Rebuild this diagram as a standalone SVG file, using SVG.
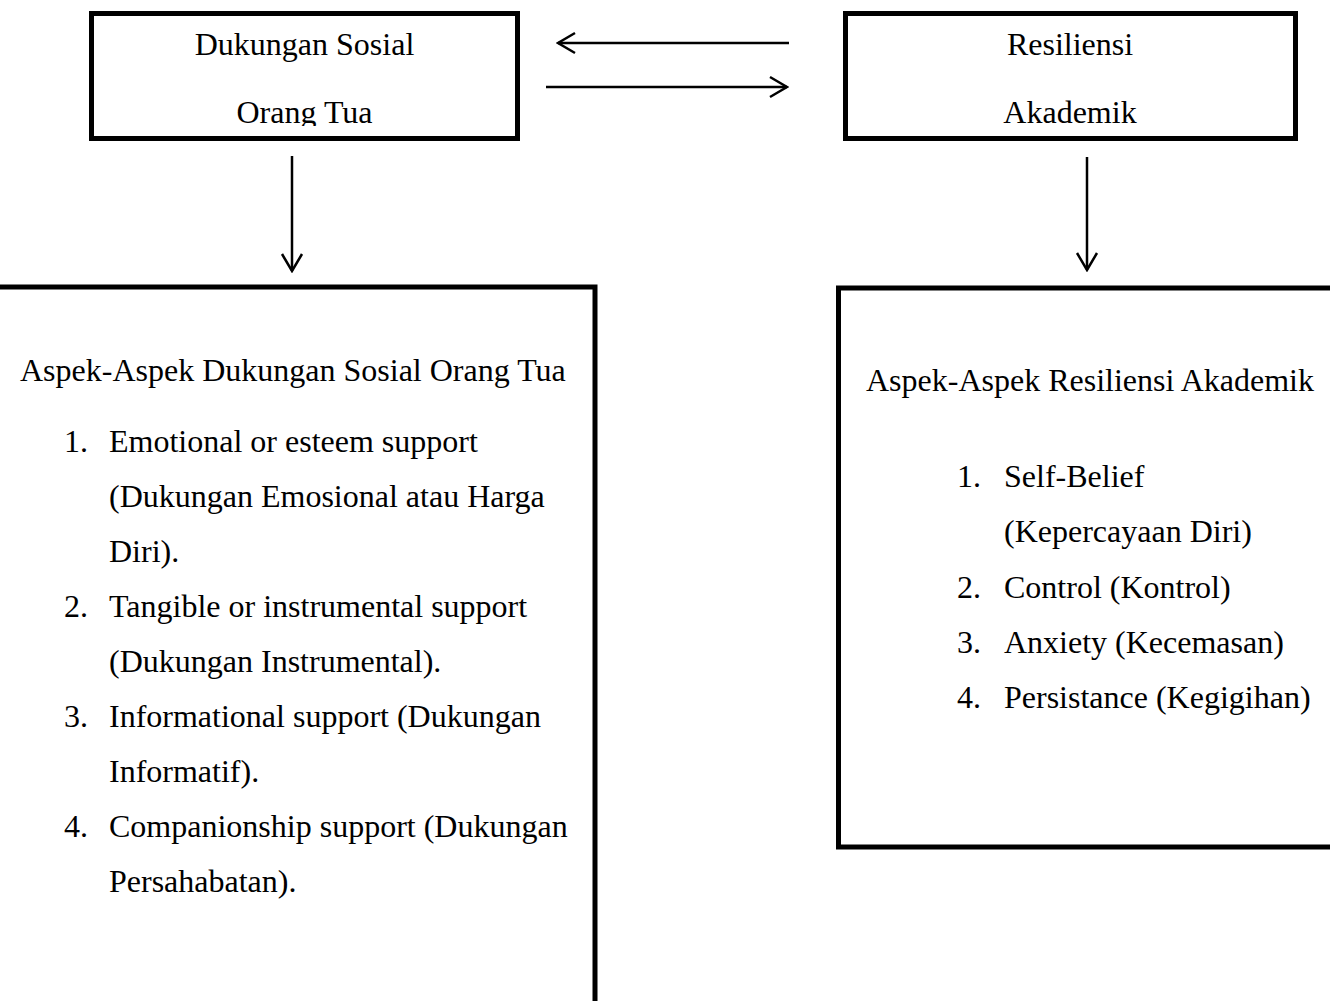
<svg xmlns="http://www.w3.org/2000/svg" width="1330" height="1001" viewBox="0 0 1330 1001">
  <style>
    .box { fill: #ffffff; stroke: #000000; stroke-width: 5; }
    .t { font-family: "Liberation Serif", "Times New Roman", serif; font-size: 32px; fill: #000000; }
    .c { text-anchor: middle; }
    .conn { stroke: #000000; stroke-width: 2.5; fill: none; marker-end: url(#arrow); }
  </style>
  <defs>
    <marker id="arrow" viewBox="-20 -12 22 24" markerWidth="22" markerHeight="24" refX="0" refY="0" orient="auto" markerUnits="userSpaceOnUse">
      <path d="M-17,-10 L0,0 L-17,10" fill="none" stroke="#000000" stroke-width="2.5" stroke-linejoin="miter"/>
    </marker>
    <clipPath id="clipTL">
      <rect x="91" y="13" width="427" height="113"/>
    </clipPath>
  </defs>
  <rect width="1330" height="1001" fill="#ffffff"/>

  <g id="node-dukungan">
    <rect class="box" x="91.5" y="13.5" width="426" height="125"/>
    <g clip-path="url(#clipTL)">
      <text class="t c" x="304.5" y="55">Dukungan Sosial</text>
      <text class="t c" x="304.5" y="123">Orang Tua</text>
    </g>
  </g>

  <g id="node-resiliensi">
    <rect class="box" x="845.5" y="13.5" width="450" height="125"/>
    <text class="t c" x="1070" y="55">Resiliensi</text>
    <text class="t c" x="1070" y="123">Akademik</text>
  </g>

  <g id="node-aspek-dukungan">
    <rect class="box" x="-10" y="287" width="605" height="730"/>
    <text class="t" x="20" y="381">Aspek-Aspek Dukungan Sosial Orang Tua</text>
    <text class="t" x="64" y="452">1.</text>
    <text class="t" x="109" y="452">Emotional or esteem support</text>
    <text class="t" x="109" y="507">(Dukungan Emosional atau Harga</text>
    <text class="t" x="109" y="562">Diri).</text>
    <text class="t" x="64" y="617">2.</text>
    <text class="t" x="109" y="617">Tangible or instrumental support</text>
    <text class="t" x="109" y="672">(Dukungan Instrumental).</text>
    <text class="t" x="64" y="727">3.</text>
    <text class="t" x="109" y="727">Informational support (Dukungan</text>
    <text class="t" x="109" y="782">Informatif).</text>
    <text class="t" x="64" y="837">4.</text>
    <text class="t" x="109" y="837">Companionship support (Dukungan</text>
    <text class="t" x="109" y="892">Persahabatan).</text>
  </g>

  <g id="node-aspek-resiliensi">
    <rect class="box" x="838.5" y="288" width="520" height="559"/>
    <text class="t" x="866" y="391">Aspek-Aspek Resiliensi Akademik</text>
    <text class="t" x="957" y="487">1.</text>
    <text class="t" x="1004" y="487">Self-Belief</text>
    <text class="t" x="1004" y="542">(Kepercayaan Diri)</text>
    <text class="t" x="957" y="598">2.</text>
    <text class="t" x="1004" y="598">Control (Kontrol)</text>
    <text class="t" x="957" y="653">3.</text>
    <text class="t" x="1004" y="653">Anxiety (Kecemasan)</text>
    <text class="t" x="957" y="708">4.</text>
    <text class="t" x="1004" y="708">Persistance (Kegigihan)</text>
  </g>

  <g id="connectors">
    <line class="conn" x1="789" y1="43" x2="558" y2="43"/>
    <line class="conn" x1="546" y1="87" x2="787" y2="87"/>
    <line class="conn" x1="292" y1="156" x2="292" y2="271"/>
    <line class="conn" x1="1087" y1="157" x2="1087" y2="270"/>
  </g>
</svg>
